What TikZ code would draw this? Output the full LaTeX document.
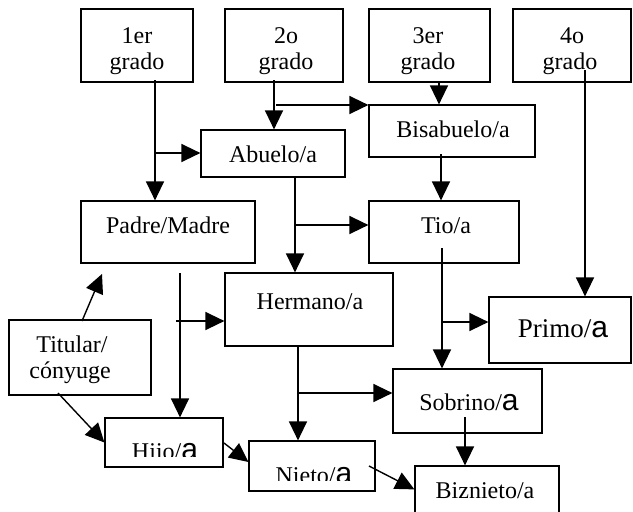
\documentclass[tikz,border=0pt]{standalone}
\usepackage{fontspec}
\setmainfont{Liberation Serif}
\newfontfamily\asans{Liberation Sans}
\usetikzlibrary{arrows.meta,fit,calc}
\newcommand{\biga}{{\asans\fontsize{30}{30}\selectfont a}}
\begin{document}
\begin{tikzpicture}[x=1pt,y=-1pt,
  box/.style={draw, line width=1.2pt, inner sep=0pt},
  arr/.style={line width=1.4pt, -{Triangle[length=19pt,width=18pt]}},
  txt/.style={anchor=base, inner sep=0pt, font=\fontsize{24}{26}\selectfont}]
\clip (0,0) rectangle (633,512);
\fill[white] (0,0) rectangle (633,512);
% boxes
\node[box, fit={(81,9) (193,82)}] (g1) {};
\node[box, fit={(225,9) (343,82)}] (g2) {};
\node[box, fit={(369,9) (490,82)}] (g3) {};
\node[box, fit={(513,9) (631,82)}] (g4) {};
\node[box, fit={(201,130) (345,177)}] (abuelo) {};
\node[box, fit={(369,105) (535,157)}] (bisab) {};
\node[box, fit={(81,201) (255,263)}] (padre) {};
\node[box, fit={(369,201) (519,263)}] (tio) {};
\node[box, fit={(225,273) (393,346)}] (hermano) {};
\node[box, fit={(489,297) (631,363)}] (primo) {};
\node[box, fit={(9,320) (151,395)}] (titular) {};
\node[box, fit={(393,369) (542,433)}] (sobrino) {};
\node[box, fit={(105,418) (223,467)}] (hijo) {};
\node[box, fit={(249,441) (375,491)}] (nieto) {};
\node[box, fit={(415,466) (559,525)}] (bizn) {};
% texts
\node[txt] (t1a) at (137,43) {1er};
\node[txt] (t1b) at (137,69) {grado};
\node[txt] (t2a) at (286,43) {2o};
\node[txt] (t2b) at (286,69) {grado};
\node[txt] (t3a) at (428,43) {3er};
\node[txt] (t3b) at (428,69) {grado};
\node[txt] (t4a) at (572,43) {4o};
\node[txt] (t4b) at (570,69) {grado};
\node[txt] (tab) at (273,162) {Abuelo/a};
\node[txt] (tbis) at (453,137) {Bisabuelo/a};
\node[txt] (tpad) at (168,233) {Padre/Madre};
\node[txt] (ttio) at (446,233) {Tio/a};
\node[txt] (ther) at (310,309) {Hermano/a};
\node[txt, font=\fontsize{27}{29}\selectfont] (tpri) at (563,337) {Primo/\biga};
\node[txt] (ttit1) at (72,352) {Titular/};
\node[txt] (ttit2) at (70,378) {cónyuge};
\node[txt] (tsob) at (469,410) {Sobrino/\biga};
\node[txt] (tbiz) at (485,498) {Biznieto/a};
\begin{scope}
\clip (105,418) rectangle (223,456);
\node[txt] (thij) at (165,459) {Hijo/\biga};
\end{scope}
\begin{scope}
\clip (249,441) rectangle (375,480);
\node[txt] (tnie) at (314,483) {Nieto/\biga};
\end{scope}
% connectors
\coordinate (s1) at (155,80);
\draw[arr] (s1) -- (s1 |- padre.north);
\coordinate (b1) at (154,153);
\draw[arr] (b1) -- (b1 -| abuelo.west);
\coordinate (s2) at (274,80);
\draw[arr] (s2) -- (s2 |- abuelo.north);
\coordinate (b2) at (276,105);
\draw[arr] (b2) -- (b2 -| bisab.west);
\coordinate (s3) at (439,82);
\draw[arr] (s3) -- (s3 |- bisab.north);
\coordinate (s4) at (441,154);
\draw[arr] (s4) -- (s4 |- tio.north);
\coordinate (s5) at (295,177);
\draw[arr] (s5) -- (s5 |- hermano.north);
\coordinate (b5) at (296,225);
\draw[arr] (b5) -- (b5 -| tio.west);
\coordinate (s6) at (585,70);
\draw[arr] (s6) -- (s6 |- primo.north);
\coordinate (s7) at (180,273);
\draw[arr] (s7) -- (s7 |- hijo.north);
\coordinate (b7) at (176,321);
\draw[arr] (b7) -- (b7 -| hermano.west);
\coordinate (s12) at (82,321);
\coordinate (e12) at (102,274);
\draw[arr] (s12) -- (e12);
\coordinate (s13) at (58,393);
\draw[arr] (s13) -- ($(hijo.west)+(0,0)$);
\coordinate (s14) at (224,443);
\draw[arr] (s14) -- ($(nieto.west)+(0,-4)$);
\coordinate (s15) at (298,346);
\draw[arr] (s15) -- (s15 |- nieto.north);
\coordinate (b15) at (299,393);
\draw[arr] (b15) -- (b15 -| sobrino.west);
\coordinate (s17) at (442,248);
\draw[arr] (s17) -- (s17 |- sobrino.north);
\coordinate (b17) at (442,322);
\draw[arr] (b17) -- (b17 -| primo.west);
\coordinate (s19) at (465,417);
\draw[arr] (s19) -- (s19 |- bizn.north);
\coordinate (s20) at (369,466);
\draw[arr] (s20) -- ($(bizn.north west)+(0,24)$);
\end{tikzpicture}
\end{document}
